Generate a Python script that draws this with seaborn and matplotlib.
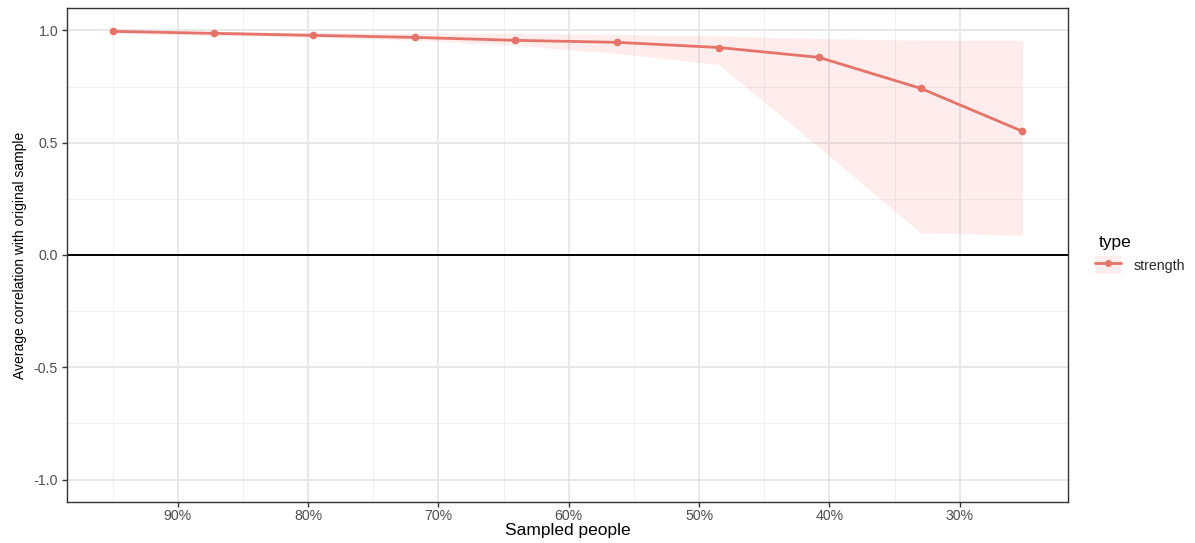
import numpy as np
import pandas as pd
import matplotlib
matplotlib.use("Agg")
import matplotlib.pyplot as plt
from matplotlib.lines import Line2D
from matplotlib.patches import Patch
import seaborn as sns

# ---- data ----
sampled_pct = [95.0, 87.2, 79.6, 71.8, 64.1, 56.3, 48.5, 40.8, 33.0, 25.2]
avg_corr    = [0.996, 0.987, 0.978, 0.969, 0.956, 0.947, 0.924, 0.880, 0.742, 0.551]
corr_lower  = [0.987, 0.978, 0.969, 0.956, 0.933, 0.898, 0.848, 0.480, 0.098, 0.089]
corr_upper  = [1.000, 0.996, 0.991, 0.987, 0.987, 0.982, 0.975, 0.964, 0.956, 0.956]
series_type = ["strength"] * len(sampled_pct)

x_ticks = [90, 80, 70, 60, 50, 40, 30]
x_tick_labels = ["90%", "80%", "70%", "60%", "50%", "40%", "30%"]
y_ticks = [-1.0, -0.5, 0.0, 0.5, 1.0]
y_tick_labels = ["-1.0", "-0.5", "0.0", "0.5", "1.0"]

df = pd.DataFrame({"pct": sampled_pct, "corr": avg_corr,
                   "lo": corr_lower, "hi": corr_upper, "type": series_type})

sns.set_theme(style="white")
plt.rcParams["font.family"] = ["Liberation Sans", "DejaVu Sans"]

LINE = "#E6736A"
FILL = "#F8766D"
fig = plt.figure(figsize=(11.95, 5.43), dpi=100)
ax = fig.add_axes([0.0561, 0.0755, 0.8376, 0.9098])
ax.set_facecolor("white")

# grid (theme_bw style)
for v in [95, 85, 75, 65, 55, 45, 35]:
    ax.axvline(v, color="#F0F0F0", lw=0.7, zorder=0)
for v in [-0.75, -0.25, 0.25, 0.75]:
    ax.axhline(v, color="#F0F0F0", lw=0.7, zorder=0)
for v in x_ticks:
    ax.axvline(v, color="#E6E6E6", lw=1.3, zorder=0)
for v in y_ticks:
    ax.axhline(v, color="#E6E6E6", lw=1.3, zorder=0)

ax.fill_between(df["pct"], df["lo"], df["hi"], color=FILL, alpha=0.13, lw=0, zorder=1)
ax.axhline(0, color="black", lw=1.4, zorder=2)
sns.lineplot(data=df, x="pct", y="corr", color=LINE, lw=2.0, marker="o",
             markersize=5.5, markeredgewidth=0, ax=ax, zorder=3, legend=False)

ax.set_xlim(98.5, 21.7)
ax.set_ylim(-1.1, 1.1)
ax.set_xticks(x_ticks)
ax.set_xticklabels(x_tick_labels)
ax.set_yticks(y_ticks)
ax.set_yticklabels(y_tick_labels)
ax.tick_params(axis="both", length=3.5, width=1, color="#333333",
               labelcolor="#4D4D4D", labelsize=10.2, pad=3, direction="out",
               bottom=True, left=True)
ax.tick_params(axis="x", pad=1.8)
for s in ax.spines.values():
    s.set_color("#333333")
    s.set_linewidth(1.0)
    s.set_visible(True)

ax.set_xlabel("Sampled people", fontsize=12.5, color="black", labelpad=0)
ax.set_ylabel("Average correlation with original sample", fontsize=10,
              color="black", labelpad=5)

fig.text(1099 / 1195, 1 - 242 / 543, "type", fontsize=12.5, color="black",
         ha="left", va="center")
handle = (Patch(facecolor=FILL, alpha=0.13, edgecolor="none"),
          Line2D([], [], color=LINE, lw=2.0, marker="o", markersize=5, markeredgewidth=0))
leg = fig.legend([handle], ["strength"], loc="center left",
                 bbox_to_anchor=(1095 / 1195, 1 - 265 / 543), frameon=False,
                 fontsize=10.2, handlelength=1.8, handleheight=1.5,
                 handletextpad=0.9, borderaxespad=0, borderpad=0)

fig.savefig("out.png", dpi=100)
